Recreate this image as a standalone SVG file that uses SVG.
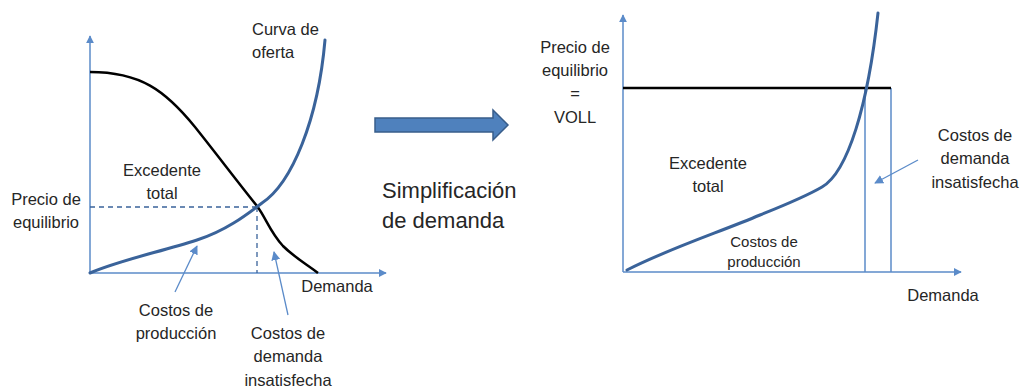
<svg xmlns="http://www.w3.org/2000/svg" width="1021" height="388" viewBox="0 0 1021 388">
<style>
text{font-family:"Liberation Sans",Arial,sans-serif;fill:#262626;}
.t{font-size:16.5px;}
.s{font-size:15px;}
.b{font-size:22px;}
.axis{stroke:#5B8BC9;stroke-width:1.5;fill:none;}
.sup{stroke:#3A639A;stroke-width:3;fill:none;stroke-linecap:round;}
.dem{stroke:#000;stroke-width:2.5;fill:none;}
.dash{stroke:#3A639A;stroke-width:1.3;stroke-dasharray:5,4;fill:none;}
.ann{stroke:#5B8BC9;stroke-width:1.3;fill:none;}
</style>
<defs>
<marker id="ah" viewBox="0 0 10 10" refX="9" refY="5" markerWidth="8" markerHeight="8" markerUnits="userSpaceOnUse" orient="auto"><path d="M0,0 L10,5 L0,10 z" fill="#5B8BC9"/></marker>
<marker id="ah2" viewBox="0 0 10 10" refX="9" refY="5" markerWidth="9" markerHeight="9" markerUnits="userSpaceOnUse" orient="auto"><path d="M0,0 L10,5 L0,10 z" fill="#5B8BC9"/></marker>
</defs>
<g id="left-chart">
<line class="axis" x1="90" y1="273" x2="90" y2="36" marker-end="url(#ah)"/>
<line class="axis" x1="90" y1="273" x2="386" y2="273" marker-end="url(#ah)"/>
<line class="dash" x1="90" y1="207" x2="257" y2="207"/>
<line class="dash" x1="257" y1="207" x2="257" y2="273"/>
<path class="dem" d="M90,72 C140,72 165,90 195,127 C215,152 240,185 257,206 C266,218 270,232 283,246 C295,258 308,265 318,273"/>
<path class="sup" d="M90,273 C120,260 160,252 197,240 C225,231 245,216 262,203 C292,183 318,120 325,40"/>
</g>
<g id="left-labels">
<text class="t" x="252" y="35">Curva de</text>
<text class="t" x="252" y="58">oferta</text>
<text class="t" x="162" y="176" text-anchor="middle">Excedente</text>
<text class="t" x="162" y="199" text-anchor="middle">total</text>
<text class="t" x="46" y="205" text-anchor="middle">Precio de</text>
<text class="t" x="46" y="228" text-anchor="middle">equilibrio</text>
<text class="t" x="337" y="292" text-anchor="middle">Demanda</text>
<text class="t" x="176" y="316" text-anchor="middle">Costos de</text>
<text class="t" x="176" y="339" text-anchor="middle">producción</text>
<text class="t" x="288" y="339" text-anchor="middle">Costos de</text>
<text class="t" x="288" y="362" text-anchor="middle">demanda</text>
<text class="t" x="288" y="386" text-anchor="middle">insatisfecha</text>
</g>
<g id="connectors">
<line class="ann" x1="175" y1="292" x2="197" y2="246" marker-end="url(#ah2)"/>
<line class="ann" x1="288" y1="315" x2="274" y2="252" marker-end="url(#ah2)"/>
<line class="ann" x1="918" y1="160" x2="875" y2="183" marker-end="url(#ah2)"/>
</g>
<g id="transition">
<polygon points="375,118 493,118 493,110 508,125 493,140 493,132 375,132" fill="#4F81BD" stroke="#385D8A" stroke-width="1.5"/>
<text class="b" x="382" y="198">Simplificación</text>
<text class="b" x="382" y="228">de demanda</text>
</g>
<g id="right-chart">
<line class="axis" x1="623" y1="272" x2="623" y2="15" marker-end="url(#ah)"/>
<line class="axis" x1="623" y1="272" x2="961" y2="272" marker-end="url(#ah)"/>
<line class="axis" x1="865" y1="88" x2="865" y2="272"/>
<line class="axis" x1="891" y1="88" x2="891" y2="272"/>
<line x1="623" y1="88" x2="891" y2="88" stroke="#000" stroke-width="2.5"/>
<path class="sup" d="M627,270 C670,248 720,232 760,215 C785,205 805,197 822,187 C848,172 868,105 878,13"/>
</g>
<g id="right-labels">
<text class="t" x="575" y="53" text-anchor="middle">Precio de</text>
<text class="t" x="575" y="76" text-anchor="middle">equilibrio</text>
<text class="t" x="575" y="99" text-anchor="middle">=</text>
<text class="t" x="575" y="123" text-anchor="middle">VOLL</text>
<text class="t" x="708" y="169" text-anchor="middle">Excedente</text>
<text class="t" x="708" y="192" text-anchor="middle">total</text>
<text class="s" x="764" y="247" text-anchor="middle">Costos de</text>
<text class="s" x="764" y="267" text-anchor="middle">producción</text>
<text class="t" x="975" y="141" text-anchor="middle">Costos de</text>
<text class="t" x="975" y="164" text-anchor="middle">demanda</text>
<text class="t" x="975" y="188" text-anchor="middle">insatisfecha</text>
<text class="t" x="943" y="301" text-anchor="middle">Demanda</text>
</g>
</svg>
